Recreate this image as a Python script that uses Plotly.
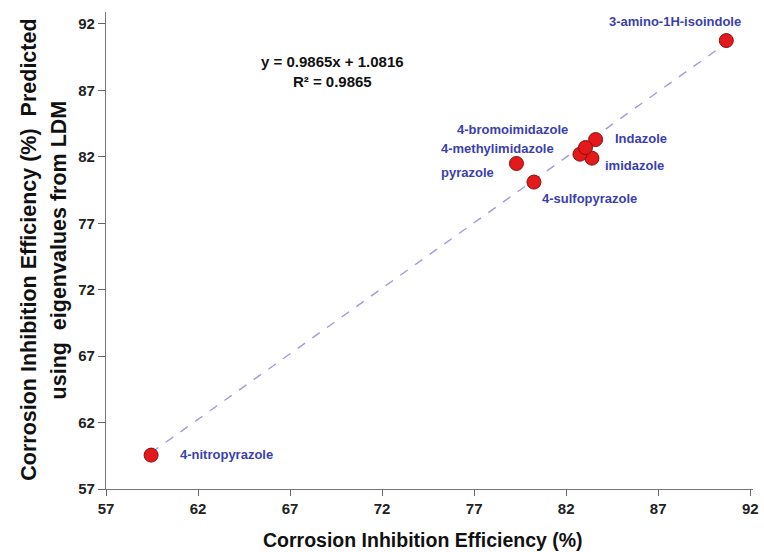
import plotly.graph_objects as go

# Observed vs. predicted corrosion inhibition efficiency (%)
compounds = ["3-amino-1H-isoindole", "Indazole", "imidazole", "4-sulfopyrazole",
             "pyrazole", "4-methylimidazole", "4-bromoimidazole", "4-nitropyrazole"]
observed = [90.7, 83.6, 83.4, 80.25, 79.3, 82.75, 83.05, 59.45]
predicted = [90.75, 83.3, 81.9, 80.1, 81.5, 82.2, 82.7, 59.55]

slope = 0.9865
intercept = 1.0816
r_squared = 0.9865

tick_vals = [57, 62, 67, 72, 77, 82, 87, 92]

# label placement relative to each marker: (xanchor, xshift, yshift)
label_offsets = {
    "3-amino-1H-isoindole": ("center", -51, 19),
    "Indazole": ("left", 17, 1),
    "imidazole": ("left", 11, -7),
    "4-sulfopyrazole": ("left", 6, -16),
    "pyrazole": ("right", -20, -9),
    "4-methylimidazole": ("right", -24, 6),
    "4-bromoimidazole": ("right", -16, 18),
    "4-nitropyrazole": ("left", 27, 1),
}

FONT = "Liberation Sans, Arial, sans-serif"
ML, MR, MT, MB = 106, 5, 12, 63
W, H = 764, 552
plot_w = W - ML - MR
plot_h = H - MT - MB


def px_to_paper(px, py):
    """Convert a pixel position on the page to paper coordinates."""
    return (px - ML) / plot_w, (H - MB - py) / plot_h


fig = go.Figure()

# regression line across the observed range
x_fit = [min(observed), max(observed)]
y_fit = [slope * v + intercept for v in x_fit]
fig.add_trace(go.Scatter(
    x=x_fit, y=y_fit, mode="lines",
    line=dict(color="#9c9ce0", width=1.4, dash="dash"),
    hoverinfo="skip", showlegend=False,
))

fig.add_trace(go.Scatter(
    x=observed, y=predicted, mode="markers",
    marker=dict(size=14, color="#e3191c", line=dict(color="#8a0d0d", width=1)),
    text=compounds, showlegend=False,
))

annotations = []
for name, xv, yv in zip(compounds, observed, predicted):
    anchor, dx, dy = label_offsets[name]
    annotations.append(dict(
        x=xv, y=yv, xref="x", yref="y", text=name, showarrow=False,
        xanchor=anchor, yanchor="middle", xshift=dx, yshift=dy,
        font=dict(family=FONT, size=13, color="#3b3fae", weight="bold"),
    ))

# regression equation
ex, ey = px_to_paper(335, 72)
annotations.append(dict(
    x=ex, y=ey, xref="paper", yref="paper", showarrow=False,
    text=f"y = {slope}x + {intercept}<br>R² = {r_squared}",
    font=dict(family=FONT, size=15, color="#111111", weight="bold"),
    align="center", xanchor="center", yanchor="middle",
))

# axis titles
tx, ty = px_to_paper(426, 540)
annotations.append(dict(
    x=tx, y=ty, xref="paper", yref="paper",
    text="Corrosion Inhibition Efficiency (%)", showarrow=False,
    xanchor="center", yanchor="middle",
    font=dict(family=FONT, size=19.5, color="#111111", weight="bold"),
))
for txt, px in [("Corrosion Inhibition Efficiency (%)&nbsp; Predicted", 28),
                ("using&nbsp; eigenvalues from LDM", 59)]:
    yx, yy = px_to_paper(px, 250)
    annotations.append(dict(
        x=yx, y=yy, xref="paper", yref="paper",
        text=txt, showarrow=False, textangle=-90,
        xanchor="center", yanchor="middle",
        font=dict(family=FONT, size=21.5, color="#111111", weight="bold"),
    ))

axis_style = dict(
    tickvals=tick_vals, ticks="outside", tickcolor="#666666",
    showline=True, linecolor="#777777", linewidth=1.2,
    showgrid=False, zeroline=False, ticklabeloverflow="allow",
    tickfont=dict(family=FONT, size=15, color="#222222", weight="bold"),
)

fig.update_layout(
    width=W, height=H,
    margin=dict(l=ML, r=MR, t=MT, b=MB),
    paper_bgcolor="white", plot_bgcolor="white",
    font=dict(family=FONT, size=14, color="#333333"),
    xaxis=dict(range=[57, 92.15], ticklen=6, **axis_style),
    yaxis=dict(range=[57, 92.9], ticklen=7, **axis_style),
    annotations=annotations,
)

fig.write_html("out.html")
